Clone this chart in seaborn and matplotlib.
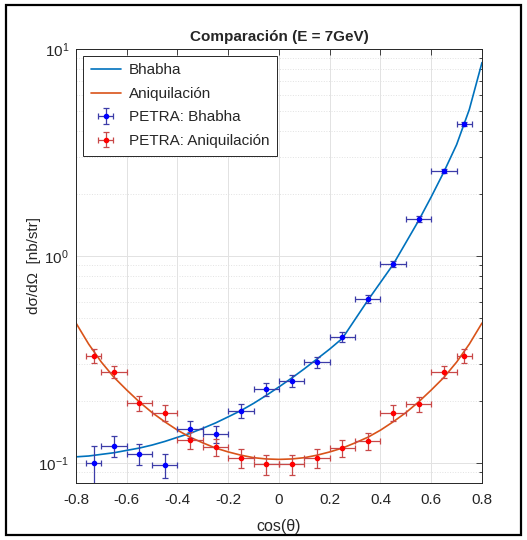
import numpy as np
import matplotlib
matplotlib.use('Agg')
import matplotlib.pyplot as plt
from matplotlib.patches import Rectangle
import seaborn as sns

# Theory curves (step 0.05)
cos_curve = [-0.80, -0.75, -0.70, -0.65, -0.60, -0.55, -0.50, -0.45, -0.40, -0.35, -0.30,
             -0.25, -0.20, -0.15, -0.10, -0.05, 0.00, 0.05, 0.10, 0.15, 0.20, 0.25,
             0.30, 0.35, 0.40, 0.45, 0.50, 0.55, 0.60, 0.65, 0.70, 0.75, 0.80]
bhabha_curve = [0.107, 0.108, 0.110, 0.112, 0.115, 0.118, 0.122, 0.127, 0.133, 0.139, 0.147,
                0.156, 0.167, 0.179, 0.194, 0.212, 0.233, 0.257, 0.285, 0.318, 0.355, 0.400,
                0.494, 0.610, 0.745, 0.910, 1.160, 1.480, 1.930, 2.550, 3.450, 5.100, 8.600]
aniq_curve = [0.474, 0.375, 0.307, 0.259, 0.225, 0.197, 0.175, 0.158, 0.144, 0.133, 0.125,
              0.118, 0.113, 0.109, 0.106, 0.1045, 0.104, 0.1045, 0.106, 0.109, 0.113, 0.118,
              0.125, 0.133, 0.144, 0.158, 0.175, 0.197, 0.225, 0.259, 0.307, 0.375, 0.474]

# PETRA data points
cos_data = [-0.73, -0.65, -0.55, -0.45, -0.35, -0.25, -0.15, -0.05,
            0.05, 0.15, 0.25, 0.35, 0.45, 0.55, 0.65, 0.73]
cos_err = [0.03, 0.05, 0.05, 0.05, 0.05, 0.05, 0.05, 0.05,
           0.05, 0.05, 0.05, 0.05, 0.05, 0.05, 0.05, 0.03]
bhabha_data = [0.0995, 0.121, 0.111, 0.098, 0.146, 0.138, 0.179, 0.227,
               0.250, 0.306, 0.405, 0.618, 0.915, 1.51, 2.57, 4.33]
bhabha_err = [0.021, 0.014, 0.013, 0.013, 0.014, 0.013, 0.014, 0.016,
              0.017, 0.019, 0.022, 0.027, 0.033, 0.045, 0.060, 0.090]
aniq_data = [0.330, 0.276, 0.194, 0.175, 0.129, 0.119, 0.106, 0.0985,
             0.0985, 0.106, 0.118, 0.128, 0.175, 0.193, 0.275, 0.330]
aniq_err = [0.027, 0.018, 0.016, 0.015, 0.012, 0.011, 0.011, 0.011,
            0.011, 0.011, 0.011, 0.012, 0.015, 0.016, 0.018, 0.027]

sns.set_theme(style='whitegrid')
plt.rcParams['font.family'] = ['Liberation Sans', 'DejaVu Sans']
plt.rcParams['mathtext.fontset'] = 'custom'
plt.rcParams['mathtext.rm'] = 'Liberation Sans'
plt.rcParams['axes.unicode_minus'] = False

fig = plt.figure(figsize=(5.27, 5.40), dpi=100)
fig.patch.set_facecolor('white')
ax = fig.add_axes([0.1442, 0.1056, 0.7704, 0.8037])
ax.set_facecolor('white')

sns.lineplot(x=cos_curve, y=bhabha_curve, ax=ax, color='#0072BD', lw=1.2,
             label='Bhabha', sort=False)
sns.lineplot(x=cos_curve, y=aniq_curve, ax=ax, color='#D95319', lw=1.2,
             label='Aniquilación', sort=False)

ax.errorbar(cos_data, bhabha_data, yerr=bhabha_err, xerr=cos_err, fmt='.',
            color='#0000ff', ecolor='#3c3ca8', ms=6, elinewidth=0.9, capsize=2.5,
            capthick=0.9, label='PETRA: Bhabha', zorder=4)
ax.errorbar(cos_data, aniq_data, yerr=aniq_err, xerr=cos_err, fmt='.',
            color='#ff0000', ecolor='#c84848', ms=6, elinewidth=0.9, capsize=2.5,
            capthick=0.9, label='PETRA: Aniquilación', zorder=4)

ax.set_yscale('log')
ax.set_xlim(-0.8, 0.8)
ax.set_ylim(0.08, 10)
ax.set_xticks(np.arange(-0.8, 0.81, 0.2))
ax.set_xticklabels(['-0.8', '-0.6', '-0.4', '-0.2', '0', '0.2', '0.4', '0.6', '0.8'])

ax.grid(True, which='major', color='#e2e2e2', lw=0.7, ls='-')
ax.grid(True, which='minor', axis='y', color='#e2e2e2', lw=0.7, ls=':')
ax.tick_params(which='both', direction='in', top=True, right=True,
               labelsize=11, colors='#262626', labelcolor='#262626')
ax.tick_params(axis='x', which='major', pad=7)
ax.tick_params(axis='y', which='major', pad=5)
ax.tick_params(which='major', length=4, width=0.6)
ax.tick_params(which='minor', length=2.5, width=0.6)
for s in ax.spines.values():
    s.set_color('#262626')
    s.set_linewidth(0.7)

ax.set_title('Comparación (E = 7GeV)', fontsize=11, fontweight='bold', pad=6)
ax.set_xlabel('cos(θ)', fontsize=11.5, labelpad=9)
ax.set_ylabel('dσ/dΩ  [nb/str]', fontsize=11, labelpad=-2)

leg = ax.legend(loc='upper left', fontsize=11, frameon=True, fancybox=False,
                framealpha=1, edgecolor='#262626', borderpad=0.5, labelspacing=0.62,
                handlelength=2.0, handletextpad=0.5, borderaxespad=0.45)
leg.get_frame().set_linewidth(0.7)

fig.add_artist(Rectangle((0.011, 0.009), 0.978, 0.982, transform=fig.transFigure,
                         fill=False, edgecolor='black', lw=1.6))

fig.savefig('out.png', dpi=100)
